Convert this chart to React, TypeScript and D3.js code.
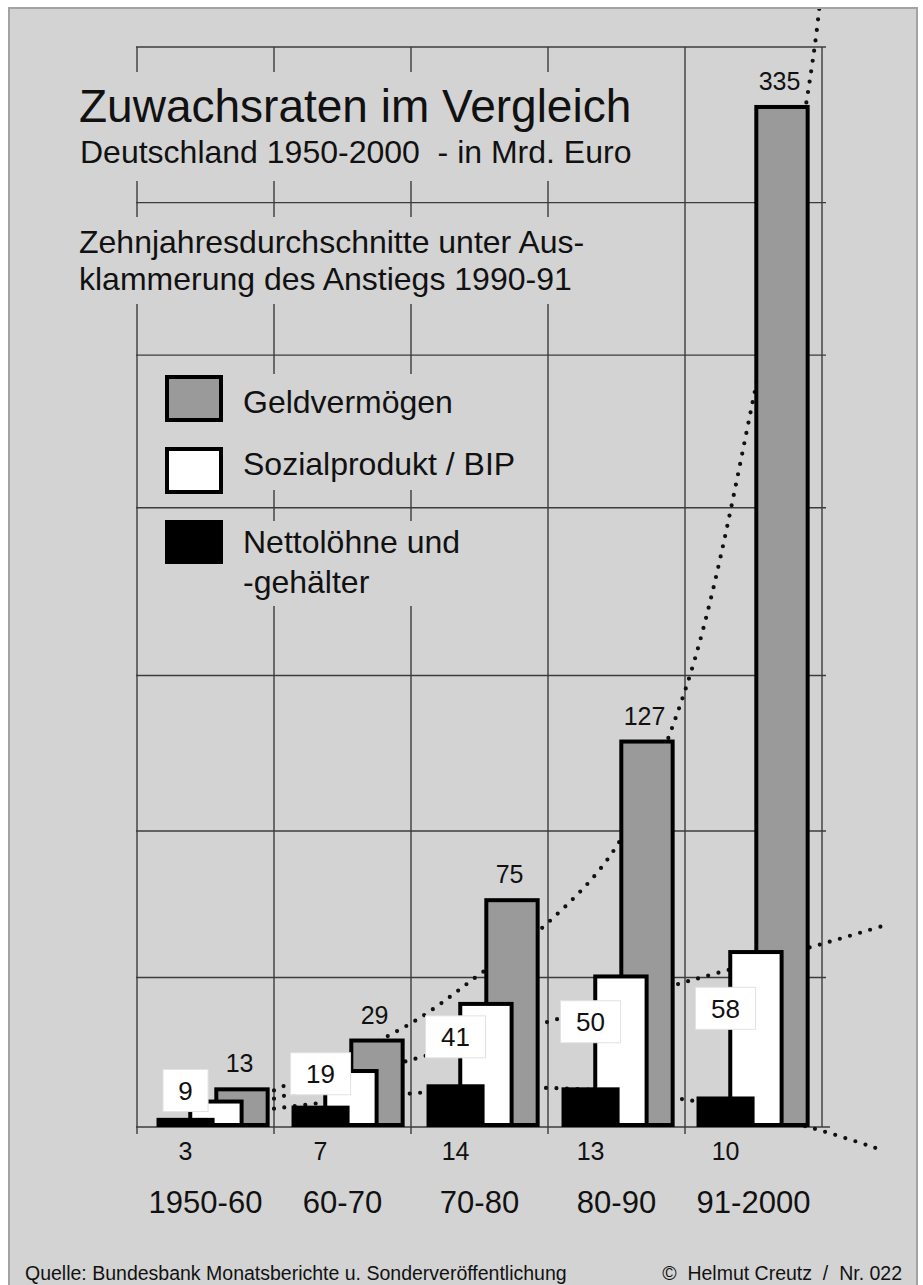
import React from 'react';
import * as d3 from 'd3';

// decades and the three series (Mrd. Euro, ten-year averages)
const periods = ['1950-60', '60-70', '70-80', '80-90', '91-2000'];
const geldvermoegen = [13, 29, 75, 127, 335];
const sozialprodukt = [9, 19, 41, 50, 58];
const nettoloehne = [3, 7, 14, 13, 10];

// dotted trend lines: position in decades (0 = start of 1950-60) and value
const geldTrendPos = [1, 2, 2.5, 3, 3.5, 4, 4.5, 4.94, 5.02];
const geldTrendVal = [12, 34, 50, 67, 92, 143, 239, 352, 385];
const bipTrendPos = [1, 2, 3, 4, 5, 5.45];
const bipTrendVal = [9.3, 22, 34.5, 47.5, 60, 66];
const nettoTrendPos = [1, 2, 3, 4, 4.9, 5.4];
const nettoTrendVal = [6, 11, 12.8, 9, 0, -7];

// background grid rows (in Mrd. Euro)
const gridValues = [0, 49, 97, 148, 203, 253, 303, 354];

const legendItems = [
  ['Geldvermögen'],
  ['Sozialprodukt / BIP'],
  ['Nettolöhne und', '-gehälter'],
];

const font = '"Liberation Sans", Arial, Helvetica, sans-serif';
const bg = '#d3d3d3';

export default function App() {
  const W = 923;
  const H = 1285;

  // grid columns and the bar groups sit on slightly different bands
  const grid = d3.scaleBand<string>().domain(periods).range([137, 822]);
  const x = d3.scaleBand<string>().domain(periods).range([141, 816]);
  const gw = grid.bandwidth();
  const bw = x.bandwidth();
  const pos = d3.scaleLinear().domain([0, periods.length]).range([137, 822]);
  const y = d3.scaleLinear().domain([0, 354]).range([1127, 47]);
  const base = y(0);

  const bounds = periods.map(p => grid(p) as number).concat([grid.range()[1]]);

  const line = d3.line<[number, number]>()
    .x(d => pos(d[0]))
    .y(d => y(d[1]))
    .curve(d3.curveCatmullRom.alpha(0.5));

  const trends = [
    d3.zip(geldTrendPos, geldTrendVal),
    d3.zip(bipTrendPos, bipTrendVal),
    d3.zip(nettoTrendPos, nettoTrendVal),
  ] as [number, number][][];

  // drawing order: grey behind white behind black
  const series = [
    { values: geldvermoegen, fill: '#9a9a9a', f0: 0.543, f1: 0.953 },
    { values: sozialprodukt, fill: '#ffffff', f0: 0.35, f1: 0.76 },
    { values: nettoloehne, fill: '#000000', f0: 0.115, f1: 0.545 },
  ];

  const blackCenter = (p: string) => (x(p) as number) + bw * 0.33;
  const greyCenter = (p: string) => (x(p) as number) + bw * 0.73;

  const gridColor = '#3c3c3c';

  // text areas where the vertical grid is cut back to ticks
  const masks = [
    { x: 128, y: 72, w: 434, h: 109 },
    { x: 128, y: 217, w: 434, h: 87 },
    { x: 150, y: 374, w: 390, h: 116 },
    { x: 150, y: 521, w: 390, h: 85 },
  ];

  const legendSwatchY = [375, 447, 520];
  const legendTextY = [413, 475, 553];
  const legendFill = ['#9a9a9a', '#ffffff', '#000000'];

  return (
    <svg
      width={W}
      height={H}
      style={{ position: 'absolute', left: 0, top: 0, background: '#fff' }}
      fontFamily={font}
    >
      <defs>
        <clipPath id="frame">
          <rect x={10} y={9} width={906} height={H} />
        </clipPath>
      </defs>
      <rect x={9} y={8} width={908} height={H + 10} fill={bg} stroke="#a3a3a3" strokeWidth={2} />

      {/* grid */}
      {gridValues.map((v, i) => (
        <line key={'h' + i} x1={bounds[0] - 1} x2={bounds[5] + (i === 0 ? 8 : 4)}
          y1={y(v)} y2={y(v)} stroke={gridColor} strokeWidth={1.4} />
      ))}
      {bounds.map((bx, i) => (
        <line key={'v' + i} x1={bx} x2={bx} y1={y(354)} y2={base + (i < 5 ? 7 : 0)}
          stroke={gridColor} strokeWidth={1.4} />
      ))}
      {masks.map((m, i) => (
        <rect key={'m' + i} x={m.x} y={m.y} width={m.w} height={m.h} fill={bg} />
      ))}

      {/* dotted trends */}
      <g clipPath="url(#frame)">
        {trends.map((tr, i) => (
          <path key={'t' + i} d={line(tr) as string} fill="none" stroke="#111"
            strokeWidth={4.2} strokeLinecap="round" strokeDasharray="0 10.5" />
        ))}
      </g>

      {/* bars */}
      {periods.map((p, pi) => (
        <g key={p}>
          {series.map((s, si) => {
            const x0 = (x(p) as number) + s.f0 * bw + 2;
            const w = (s.f1 - s.f0) * bw - 4;
            const top = y(s.values[pi]) + 2;
            return (
              <rect key={si} x={x0} y={top} width={w} height={base - 2 - top}
                fill={s.fill} stroke="#000" strokeWidth={4} />
            );
          })}
        </g>
      ))}

      {/* value labels */}
      {periods.map((p, i) => (
        <text key={'g' + p} x={greyCenter(p)} y={y(geldvermoegen[i]) - 15}
          textAnchor="middle" fontSize={25} fill="#111">{geldvermoegen[i]}</text>
      ))}
      {periods.map((p, i) => {
        const v = sozialprodukt[i];
        const cy = y(v * 0.55 + 7);
        const bwid = String(v).length > 1 ? 60 : 45;
        return (
          <g key={'s' + p}>
            <rect x={blackCenter(p) - bwid / 2} y={cy - 21} width={bwid} height={42}
              fill="#fff" stroke="#e2e2e2" strokeWidth={1} />
            <text x={blackCenter(p)} y={cy + 9.5} textAnchor="middle" fontSize={26} fill="#111">{v}</text>
          </g>
        );
      })}
      {periods.map((p, i) => (
        <text key={'n' + p} x={blackCenter(p)} y={1160} textAnchor="middle"
          fontSize={25} fill="#111">{nettoloehne[i]}</text>
      ))}

      {/* category labels */}
      {periods.map(p => (
        <text key={'c' + p} x={(grid(p) as number) + gw / 2} y={1213} textAnchor="middle"
          fontSize={31} fill="#111">{p}</text>
      ))}

      {/* titles */}
      <text x={79} y={122} fontSize={46} fill="#111">Zuwachsraten im Vergleich</text>
      <text x={80} y={163} fontSize={32} fill="#111" style={{ whiteSpace: 'pre' }}>
        {'Deutschland 1950-2000  - in Mrd. Euro'}
      </text>
      <text x={79} y={253} fontSize={32} fill="#111">Zehnjahresdurchschnitte unter Aus-</text>
      <text x={79} y={290} fontSize={32} fill="#111">klammerung des Anstiegs 1990-91</text>

      {/* legend */}
      {legendItems.map((lines, i) => (
        <g key={'l' + i}>
          <rect x={167} y={legendSwatchY[i] + 2} width={54} height={i === 2 ? 40 : 43}
            fill={legendFill[i]} stroke="#000" strokeWidth={4} />
          {lines.map((t, j) => (
            <text key={j} x={243} y={legendTextY[i] + j * 40} fontSize={32} fill="#111">{t}</text>
          ))}
        </g>
      ))}

      {/* footer */}
      <text x={25} y={1280} fontSize={19.5} fill="#111">
        Quelle: Bundesbank Monatsberichte u. Sonderveröffentlichung
      </text>
      <text x={902} y={1280} fontSize={19.5} fill="#111" textAnchor="end" style={{ whiteSpace: 'pre' }}>
        {'©  Helmut Creutz  /  Nr. 022'}
      </text>
    </svg>
  );
}
